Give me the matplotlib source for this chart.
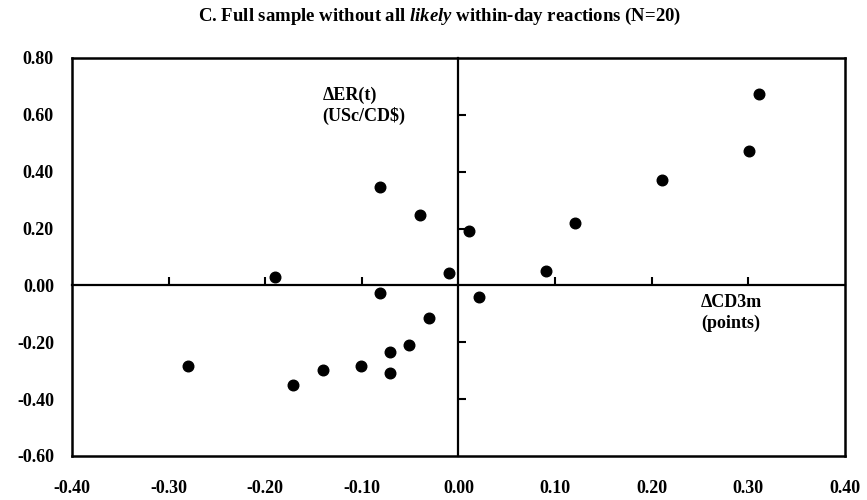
import matplotlib
matplotlib.use("Agg")
import matplotlib.pyplot as plt

# Data
d_cd3m = [-0.081, -0.040, 0.011, -0.190, -0.010, -0.081,
          0.311, 0.301, 0.211, 0.121, 0.091, 0.021,
          -0.280, -0.171, -0.140, -0.101, -0.071, -0.071, -0.051, -0.031]
d_er = [0.345, 0.248, 0.193, 0.028, 0.042, -0.025,
        0.675, 0.474, 0.371, 0.220, 0.050, -0.040,
        -0.285, -0.352, -0.298, -0.285, -0.235, -0.307, -0.208, -0.115]

x_ticks = [-0.40, -0.30, -0.20, -0.10, 0.00, 0.10, 0.20, 0.30, 0.40]
y_ticks = [-0.60, -0.40, -0.20, 0.00, 0.20, 0.40, 0.60, 0.80]
x_inner_ticks = [-0.30, -0.20, -0.10, 0.10, 0.20, 0.30]
y_inner_ticks = [-0.40, -0.20, 0.20, 0.40, 0.60]

plt.rcParams['font.family'] = ['Liberation Serif', 'DejaVu Serif']
plt.rcParams['mathtext.fontset'] = 'custom'
plt.rcParams['mathtext.rm'] = 'Liberation Serif:bold'
plt.rcParams['mathtext.it'] = 'Liberation Serif:italic:bold'
plt.rcParams['mathtext.bf'] = 'Liberation Serif:bold'

fig = plt.figure(figsize=(8.67, 5.0), dpi=100)
pos = [72 / 867, 1 - 456 / 500, (845 - 72) / 867, (456 - 58) / 500]

ax = fig.add_axes(pos)
ax.set_xlim(-0.40, 0.40)
ax.set_ylim(-0.60, 0.80)
for s in ax.spines.values():
    s.set_linewidth(1.8)
    s.set_color('black')
ax.set_xticks(x_ticks)
ax.set_yticks(y_ticks)
ax.set_xticklabels([f"{v:.2f}" for v in x_ticks])
ax.set_yticklabels([f"{v:.2f}" for v in y_ticks])
ax.tick_params(axis='both', length=0, labelsize=13)
ax.tick_params(axis='x', pad=17)
ax.tick_params(axis='y', pad=13)
for lab in ax.get_xticklabels() + ax.get_yticklabels():
    lab.set_fontweight('bold')

# Inner axes at zero with inward tick marks
ax2 = fig.add_axes(pos, frameon=True, facecolor='none')
ax2.set_xlim(-0.40, 0.40)
ax2.set_ylim(-0.60, 0.80)
ax2.spines['left'].set_position(('data', 0))
ax2.spines['bottom'].set_position(('data', 0))
ax2.spines['top'].set_visible(False)
ax2.spines['right'].set_visible(False)
ax2.spines['left'].set_linewidth(1.6)
ax2.spines['bottom'].set_linewidth(1.6)
ax2.set_xticks(x_inner_ticks)
ax2.set_yticks(y_inner_ticks)
ax2.tick_params(axis='both', direction='in', length=6, width=1.5,
                labelbottom=False, labelleft=False)

ax2.scatter(d_cd3m, d_er, s=58, color='black', zorder=5)

ax2.text(-0.141, 0.70, "ΔER(t)\n(USc/CD$)", fontsize=13, fontweight='bold',
         ha='left', va='top', linespacing=1.25)
ax2.text(0.251, -0.03, "ΔCD3m\n(points)", fontsize=13, fontweight='bold',
         ha='left', va='top', linespacing=1.25)

fig.text(440 / 867, 1 - 16 / 500,
         r"C. Full sample without all $\mathit{likely}$ within-day reactions (N=20)",
         ha='center', va='center', fontsize=13.5, fontweight='bold')

fig.savefig("out.png", dpi=100)
